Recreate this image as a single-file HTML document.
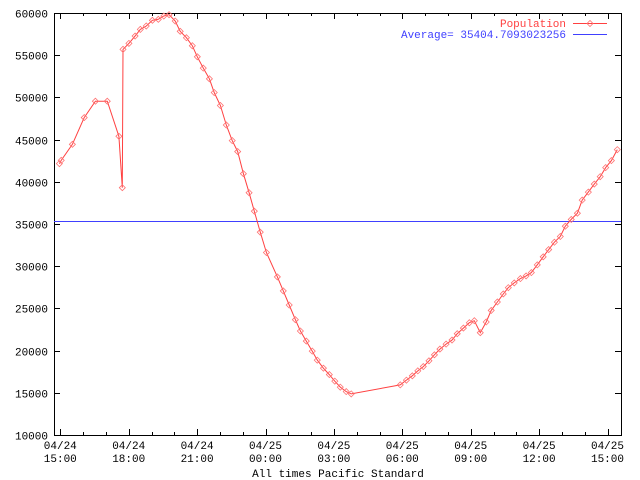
<!DOCTYPE html>
<html><head><meta charset="utf-8"><style>
html,body{margin:0;padding:0;background:#fff;}
svg{display:block;font-family:"Liberation Mono",monospace;font-size:11px;}
</style></head><body>
<svg id="chart" width="640" height="480" xmlns="http://www.w3.org/2000/svg"></svg>
<script>
const hours = [-0.04,0.04,0.53,1.05,1.54,2.06,2.57,2.72,2.75,3.01,3.28,3.51,3.77,4.04,4.30,4.54,4.77,5.04,5.26,5.53,5.79,6.01,6.27,6.54,6.75,7.02,7.28,7.54,7.78,8.03,8.28,8.51,8.77,9.04,9.52,9.78,10.04,10.31,10.53,10.79,11.05,11.27,11.54,11.80,12.04,12.28,12.54,12.76,14.91,15.18,15.44,15.68,15.92,16.17,16.41,16.65,16.92,17.18,17.41,17.68,17.94,18.16,18.42,18.68,18.90,19.17,19.43,19.65,19.91,20.18,20.43,20.66,20.92,21.18,21.42,21.67,21.93,22.15,22.41,22.68,22.89,23.16,23.42,23.68,23.92,24.17,24.43];
const population = [42150,42540,44440,47610,49550,49550,45390,39300,55690,56400,57270,58060,58460,59130,59250,59640,59800,59050,57830,57070,56120,54810,53470,52200,50580,49040,46730,44880,43580,40960,38710,36520,34030,31620,28730,27070,25400,23660,22320,21130,19940,18870,17920,17160,16380,15670,15140,14870,15940,16500,17010,17600,18110,18790,19500,20180,20770,21250,22000,22670,23300,23540,22120,23390,24760,25760,26710,27460,28020,28530,28850,29240,30160,31110,31970,32840,33520,34740,35540,36280,37830,38780,39730,40610,41680,42510,43810];
const average = 35404.7093023256;
const yTicks = [10000,15000,20000,25000,30000,35000,40000,45000,50000,55000,60000];
const xTickHours = [0,3,6,9,12,15,18,21,24];
const xTickDates = ["04/24","04/24","04/24","04/25","04/25","04/25","04/25","04/25","04/25"];
const xTickTimes = ["15:00","18:00","21:00","00:00","03:00","06:00","09:00","12:00","15:00"];

const L=54,R=621,T=13,B=435;
const xs=h=>60.3+h*22.8;
const ys=v=>T+(60000-v)*(B-T)/50000;
const svg=document.getElementById('chart');
const NS='http://www.w3.org/2000/svg';
function mk(tag,attrs,parent){const e=document.createElementNS(NS,tag);for(const k in attrs)e.setAttribute(k,attrs[k]);(parent||svg).appendChild(e);return e;}

const frame=mk('rect',{x:L+0.5,y:T+0.5,width:R-L,height:B-T,fill:'none',stroke:'#000','stroke-width':1});



yTicks.forEach((v,i)=>{
  const y=Math.round(ys(v))+0.5;
  const t=mk('path',{d:`M${L} ${y}h6M${R} ${y}h-6`,stroke:'#000'});
  
  
  const lb=mk('text',{x:48,y:y+4,'text-anchor':'end',fill:'#000'});
  lb.textContent=v;
  
  
});
for(let h=0;h<=24;h++){
  const x=Math.round(xs(h))+0.5;
  const len=(h%3===0)?6:3;
  const t=mk('path',{d:`M${x} ${B}v${-len}M${x} ${T}v${len}`,stroke:'#000'});
  
  
}
xTickHours.forEach((h,i)=>{
  const x=xs(h);
  const a=mk('text',{x:x,y:449,'text-anchor':'middle',fill:'#000'});
  a.textContent=xTickDates[i];
  
  
  const b=mk('text',{x:x,y:462,'text-anchor':'middle',fill:'#000'});
  b.textContent=xTickTimes[i];
  
  
});
const xt=mk('text',{x:338,y:477,'text-anchor':'middle',fill:'#000'});
xt.textContent='All times Pacific Standard';



const ay=Math.round(ys(average))+0.5;
const avg=mk('line',{x1:L,x2:R,y1:ay,y2:ay,stroke:'#4040ff','stroke-width':1});



const pts=hours.map((h,i)=>xs(h).toFixed(1)+','+ys(population[i]).toFixed(1)).join(' ');
const line=mk('polyline',{points:pts,fill:'none',stroke:'#ff4040','stroke-width':1});


function marker(x,y){
  return mk('path',{d:`M${x-3} ${y}L${x} ${y-3}L${x+3} ${y}L${x} ${y+3}Z`,fill:'none',stroke:'#ff7070','stroke-width':0.8});
}
hours.forEach((h,i)=>{
  const m=marker(xs(h),ys(population[i]));
  
  
});

const l1=mk('text',{x:566,y:27,'text-anchor':'end',fill:'#ff4040'});
l1.textContent='Population';


const s1=mk('line',{x1:573,x2:607,y1:23.5,y2:23.5,stroke:'#ff4040'});


const sm=marker(590,23.5);


const l2=mk('text',{x:566,y:38,'text-anchor':'end',fill:'#4040ff'});
l2.textContent='Average= 35404.7093023256';


const s2=mk('line',{x1:573,x2:607,y1:34.5,y2:34.5,stroke:'#4040ff'});


</script>
</body></html>
